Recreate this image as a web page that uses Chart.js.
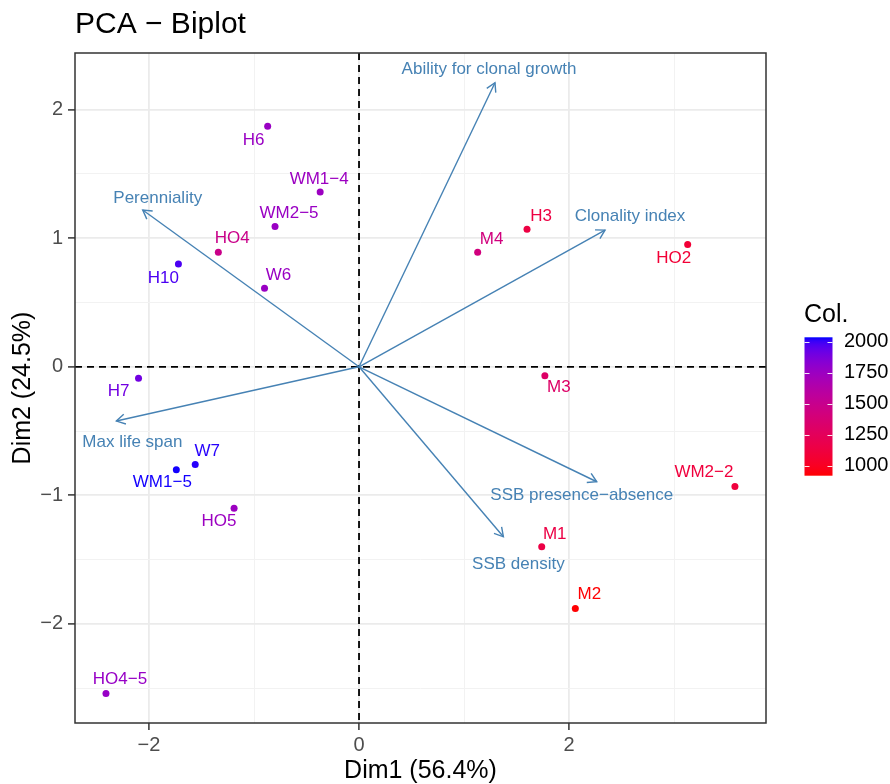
<!DOCTYPE html>
<html>
<head>
<meta charset="utf-8">
<script src="https://cdn.jsdelivr.net/npm/chart.js@4.4.1/dist/chart.umd.min.js"></script>
<style>
  body { margin: 0; background: #fff; }
  #wrap { width: 890px; height: 784px; }
</style>
</head>
<body>
<div id="wrap"><canvas id="grafico" width="890" height="784"></canvas></div>
<script>
// individuos (Dim1, Dim2, Col.)
const etiquetas = ["H6", "WM1\u22124", "WM2\u22125", "HO4", "H10", "W6", "H7", "W7", "WM1\u22125", "HO5", "HO4\u22125",
                   "M4", "H3", "HO2", "M3", "WM2\u22122", "M1", "M2"];
const dim1 = [-0.87, -0.37, -0.80, -1.34, -1.72, -0.90, -2.10, -1.56, -1.74, -1.19, -2.41,
              1.13, 1.60, 3.13, 1.77, 3.58, 1.74, 2.06];
const dim2 = [1.87, 1.36, 1.09, 0.89, 0.80, 0.61, -0.09, -0.76, -0.80, -1.10, -2.54,
              0.89, 1.07, 0.95, -0.07, -0.93, -1.40, -1.88];
const col = [1760, 1750, 1760, 1480, 1980, 1760, 1900, 2020, 2030, 1750, 1770,
             1420, 1140, 1080, 1310, 1110, 1150, 925];

// variables (flechas)
const variables = ["Ability for clonal growth", "Clonality index", "Perenniality", "Max life span",
                   "SSB presence\u2212absence", "SSB density"];
const varDim1 = [1.295, 2.343, -2.06, -2.311, 2.264, 1.375];
const varDim2 = [2.209, 1.063, 1.219, -0.422, -0.894, -1.322];

// ejes y leyenda
const xTicks = [-2, -1, 0, 1, 2, 3];
const yTicks = [-2.5, -2, -1.5, -1, -0.5, 0, 0.5, 1, 1.5, 2];
const colLimits = [919, 2035];
const colTicks = [1000, 1250, 1500, 1750, 2000];

// desplazamiento de las etiquetas (px)
const offPuntos = [[-14, 14], [-1, -13], [14, -13], [14, -14], [-15, 14], [14, -13], [-20, 13], [12, -13], [-14, 13],
                   [-15, 13], [14, -14], [14, -13], [14, -13], [-14, 14], [14, 12], [-31, -14], [13, -13], [14, -14]];
const offVars = [[-6, -13], [25, -14], [15, -12], [16, 21], [-15, 14], [15, 28]];

const FONT = "'Liberation Sans', Arial, sans-serif";
const AZUL = "#4682B4";

// color: interpolacion en Lab de rojo a azul (como ggplot)
const lin = c => { c /= 255; return c <= 0.04045 ? c / 12.92 : Math.pow((c + 0.055) / 1.055, 2.4); };
const gam = c => { c = c <= 0.0031308 ? 12.92 * c : 1.055 * Math.pow(c, 1 / 2.4) - 0.055; return Math.round(Math.max(0, Math.min(1, c)) * 255); };
const toLab = ([r, g, b]) => {
    const R = lin(r), G = lin(g), B = lin(b);
    const X = (0.4124 * R + 0.3576 * G + 0.1805 * B) / 0.95047;
    const Y = 0.2126 * R + 0.7152 * G + 0.0722 * B;
    const Z = (0.0193 * R + 0.1192 * G + 0.9505 * B) / 1.08883;
    const f = t => t > 0.008856 ? Math.cbrt(t) : 7.787 * t + 16 / 116;
    return [116 * f(Y) - 16, 500 * (f(X) - f(Y)), 200 * (f(Y) - f(Z))];
};
const fromLab = ([L, a, b]) => {
    const fy = (L + 16) / 116, fx = fy + a / 500, fz = fy - b / 200;
    const fi = t => t * t * t > 0.008856 ? t * t * t : (t - 16 / 116) / 7.787;
    const X = fi(fx) * 0.95047, Y = fi(fy), Z = fi(fz) * 1.08883;
    const R = 3.2406 * X - 1.5372 * Y - 0.4986 * Z;
    const G = -0.9689 * X + 1.8758 * Y + 0.0415 * Z;
    const B = 0.0557 * X - 0.2040 * Y + 1.0570 * Z;
    return `rgb(${gam(R)},${gam(G)},${gam(B)})`;
};
const labRojo = toLab([255, 0, 0]), labAzul = toLab([0, 0, 255]);
const colorDe = v => {
    const t = Math.max(0, Math.min(1, (v - colLimits[0]) / (colLimits[1] - colLimits[0])));
    return fromLab(labRojo.map((c, i) => c + (labAzul[i] - c) * t));
};

const fmt = v => v < 0 ? "\u2212" + Math.abs(v) : String(v);

// datasets
const puntos = {
    label: "ind",
    data: dim1.map((x, i) => ({ x: x, y: dim2[i] })),
    pointBackgroundColor: col.map(colorDe),
    pointBorderWidth: 0,
    pointRadius: 3.5
};
const flechas = variables.map((v, i) => ({
    type: "line",
    label: v,
    data: [{ x: 0, y: 0 }, { x: varDim1[i], y: varDim2[i] }],
    showLine: true,
    borderColor: AZUL,
    borderWidth: 1.4,
    pointRadius: 0,
    fill: false
}));

const dibujos = {
    id: "dibujos",
    beforeDatasetsDraw(chart) {
        const { ctx, chartArea: a, scales: { x, y } } = chart;
        ctx.save();
        ctx.strokeStyle = "#000";
        ctx.lineWidth = 1.8;
        ctx.setLineDash([7, 5]);
        ctx.beginPath();
        ctx.moveTo(a.left, y.getPixelForValue(0)); ctx.lineTo(a.right, y.getPixelForValue(0));
        ctx.moveTo(x.getPixelForValue(0), a.top); ctx.lineTo(x.getPixelForValue(0), a.bottom);
        ctx.stroke();
        ctx.restore();
    },
    afterDatasetsDraw(chart) {
        const { ctx, chartArea: a } = chart;
        ctx.save();
        // puntas de flecha
        ctx.strokeStyle = AZUL;
        ctx.lineWidth = 1.4;
        flechas.forEach((f, i) => {
            const d = chart.getDatasetMeta(i + 1).data;
            const x0 = d[0].x, y0 = d[0].y, x1 = d[1].x, y1 = d[1].y;
            const ang = Math.atan2(y1 - y0, x1 - x0);
            ctx.beginPath();
            ctx.moveTo(x1 - 10 * Math.cos(ang - Math.PI / 6), y1 - 10 * Math.sin(ang - Math.PI / 6));
            ctx.lineTo(x1, y1);
            ctx.lineTo(x1 - 10 * Math.cos(ang + Math.PI / 6), y1 - 10 * Math.sin(ang + Math.PI / 6));
            ctx.stroke();
        });
        // etiquetas
        ctx.font = "17px " + FONT;
        ctx.textAlign = "center";
        ctx.textBaseline = "middle";
        flechas.forEach((f, i) => {
            const p = chart.getDatasetMeta(i + 1).data[1];
            ctx.fillStyle = AZUL;
            ctx.fillText(f.label, p.x + offVars[i][0], p.y + offVars[i][1]);
        });
        chart.getDatasetMeta(0).data.forEach((p, i) => {
            ctx.fillStyle = puntos.pointBackgroundColor[i];
            ctx.fillText(etiquetas[i], p.x + offPuntos[i][0], p.y + offPuntos[i][1]);
        });
        // borde del panel
        ctx.strokeStyle = "#333333";
        ctx.lineWidth = 1.5;
        ctx.strokeRect(a.left, a.top, a.right - a.left, a.bottom - a.top);
        ctx.restore();
    },
    afterDraw(chart) {
        const { ctx } = chart;
        ctx.save();
        // titulo
        ctx.fillStyle = "#000";
        ctx.font = "30px " + FONT;
        ctx.textAlign = "left";
        ctx.textBaseline = "alphabetic";
        ctx.fillText("PCA \u2212 Biplot", chart.chartArea.left, 33);
        // leyenda de color
        ctx.font = "25px " + FONT;
        ctx.fillText("Col.", 804, 322);
        const bl = 804.5, bw = 28, bt = 337.3, bb = 475.7;
        const pix = v => bb - (v - colLimits[0]) / (colLimits[1] - colLimits[0]) * (bb - bt);
        const grad = ctx.createLinearGradient(0, bb, 0, bt);
        for (let k = 0; k <= 40; k++) {
            grad.addColorStop(k / 40, colorDe(colLimits[0] + (colLimits[1] - colLimits[0]) * k / 40));
        }
        ctx.fillStyle = grad;
        ctx.fillRect(bl, bt, bw, bb - bt);
        ctx.strokeStyle = "rgba(255,255,255,0.9)";
        ctx.lineWidth = 1;
        ctx.font = "20px " + FONT;
        ctx.textBaseline = "middle";
        colTicks.forEach(v => {
            const yy = Math.round(pix(v)) + 0.5;
            ctx.beginPath();
            ctx.moveTo(bl, yy); ctx.lineTo(bl + 5, yy);
            ctx.moveTo(bl + bw - 5, yy); ctx.lineTo(bl + bw, yy);
            ctx.stroke();
            ctx.fillStyle = "#000";
            ctx.fillText(String(v), 844, pix(v));
        });
        ctx.restore();
    }
};

const mayorX = v => v % 2 === 0;
const mayorY = v => Number.isInteger(v);

new Chart(document.getElementById("grafico").getContext("2d"), {
    type: "scatter",
    data: { datasets: [puntos, ...flechas] },
    options: {
        responsive: false,
        animation: false,
        layout: { padding: { top: 53, right: 124, left: 0, bottom: 0 } },
        plugins: { legend: { display: false }, tooltip: { enabled: false } },
        scales: {
            x: {
                type: "linear",
                min: -2.705, max: 3.876,
                afterBuildTicks: s => { s.ticks = xTicks.map(v => ({ value: v })); },
                afterFit: s => { s.height = 61; },
                grid: {
                    color: c => mayorX(c.tick.value) ? "#EBEBEB" : "#F2F2F2",
                    lineWidth: c => mayorX(c.tick.value) ? 1.8 : 1,
                    tickColor: c => mayorX(c.tick.value) ? "#333333" : "rgba(0,0,0,0)",
                    tickLength: 7,
                    tickWidth: 1.5
                },
                border: { display: false },
                ticks: {
                    autoSkip: false,
                    maxRotation: 0,
                    padding: 3,
                    color: "#4D4D4D",
                    font: { family: FONT, size: 20 },
                    callback: v => mayorX(v) ? fmt(v) : ""
                },
                title: {
                    display: true,
                    text: "Dim1 (56.4%)",
                    color: "#000",
                    font: { family: FONT, size: 25, lineHeight: 1 },
                    padding: { top: 0, bottom: 0 }
                }
            },
            y: {
                type: "linear",
                min: -2.77, max: 2.44,
                afterBuildTicks: s => { s.ticks = yTicks.map(v => ({ value: v })); },
                afterFit: s => { s.width = 75; },
                grid: {
                    color: c => mayorY(c.tick.value) ? "#EBEBEB" : "#F2F2F2",
                    lineWidth: c => mayorY(c.tick.value) ? 1.8 : 1,
                    tickColor: c => mayorY(c.tick.value) ? "#333333" : "rgba(0,0,0,0)",
                    tickLength: 7,
                    tickWidth: 1.5
                },
                border: { display: false },
                ticks: {
                    autoSkip: false,
                    padding: 5,
                    color: "#4D4D4D",
                    font: { family: FONT, size: 20 },
                    callback: v => mayorY(v) ? fmt(v) : ""
                },
                title: {
                    display: true,
                    text: "Dim2 (24.5%)",
                    color: "#000",
                    font: { family: FONT, size: 25, lineHeight: 1 },
                    padding: { top: 11, bottom: 0 }
                }
            }
        }
    },
    plugins: [dibujos]
});
</script>
</body>
</html>
